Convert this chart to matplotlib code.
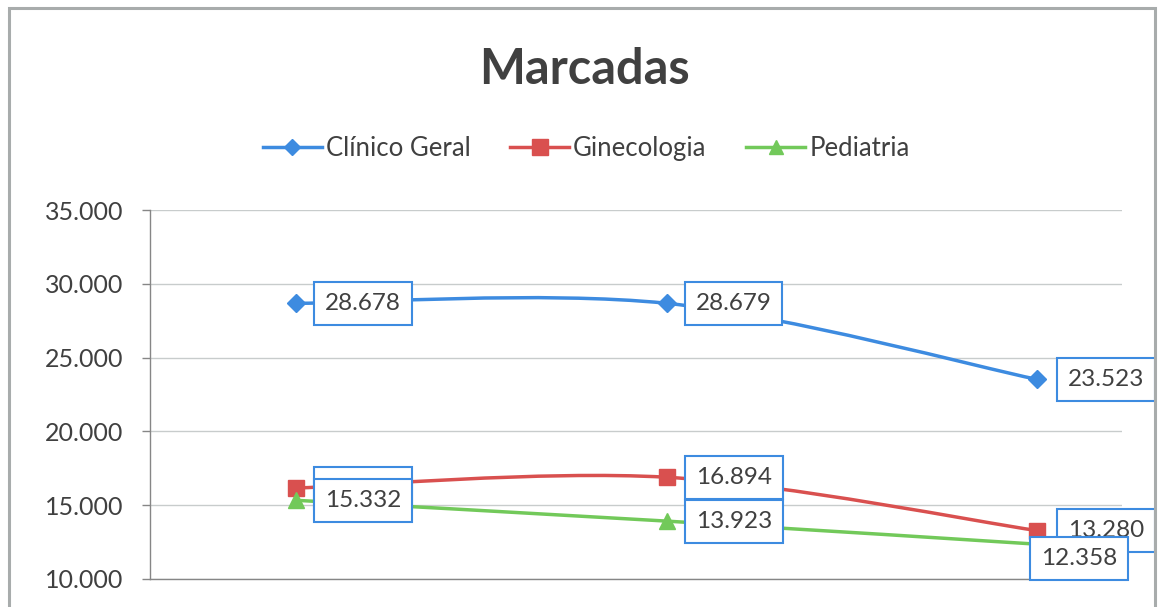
import matplotlib
matplotlib.use("Agg")
import matplotlib.pyplot as plt
from matplotlib.path import Path
from matplotlib.patches import PathPatch, Rectangle
from matplotlib.lines import Line2D
from matplotlib.ticker import FuncFormatter

plt.rcParams['font.family'] = ['Lato', 'DejaVu Sans']

# ---- data ----
title = "Marcadas"
series_names = ["Clínico Geral", "Ginecologia", "Pediatria"]
categories = [0, 1, 2]
clinico = [28678, 28679, 23523]
gineco = [16165, 16894, 13280]
pediatria = [15332, 13923, 12358]
yticks = [10000, 15000, 20000, 25000, 30000, 35000]

colors = ["#3d8be0", "#d9504f", "#72c95a"]
markers = ["D", "s", "^"]
msizes = [9, 12, 11]
txt_color = "#404040"

W, H = 1163, 607
fig = plt.figure(figsize=(W / 100, H / 100), dpi=100)
fig.patch.set_facecolor("white")
fig.patches.append(Rectangle((9 / W, -0.1), (1155 - 9) / W, 1 - 8 / H + 0.1,
                             transform=fig.transFigure, fill=False,
                             edgecolor="#a8acac", linewidth=2.2))

ax = fig.add_axes([150 / W, 1 - 579 / H, (1122 - 150) / W, (579 - 210) / H])
ax.set_xlim(-0.394, 2.229)
ax.set_ylim(10000, 35000)
ax.set_yticks(yticks)
ax.yaxis.set_major_formatter(FuncFormatter(lambda v, p: f"{int(v):,}".replace(",", ".")))
ax.set_xticks([])
ax.tick_params(axis="y", labelsize=18, colors="#868686", labelcolor=txt_color,
               length=6, width=1, pad=13)
for s in ["top", "right"]:
    ax.spines[s].set_visible(False)
for s in ["left", "bottom"]:
    ax.spines[s].set_color("#868686")
    ax.spines[s].set_linewidth(1)
ax.grid(axis="y", color="#c8cccc", linewidth=1)
ax.set_axisbelow(True)


def smooth_path(xs, ys):
    pts = list(zip(xs, ys))
    n = len(pts)
    verts = [pts[0]]
    codes = [Path.MOVETO]
    for i in range(n - 1):
        p0 = pts[i - 1] if i > 0 else pts[i]
        p1 = pts[i]
        p2 = pts[i + 1]
        p3 = pts[i + 2] if i + 2 < n else pts[i + 1]
        c1 = (p1[0] + (p2[0] - p0[0]) / 6, p1[1] + (p2[1] - p0[1]) / 6)
        c2 = (p2[0] - (p3[0] - p1[0]) / 6, p2[1] - (p3[1] - p1[1]) / 6)
        verts += [c1, c2, p2]
        codes += [Path.CURVE4] * 3
    return Path(verts, codes)


all_series = [clinico, gineco, pediatria]
for k, (vals, c, m, ms) in enumerate(zip(all_series, colors, markers, msizes)):
    ax.add_patch(PathPatch(smooth_path(categories, vals), fill=False,
                           edgecolor=c, linewidth=2.5, zorder=3))
    ax.plot(categories, vals, linestyle="none", marker=m, markersize=ms,
            color=c, zorder=4)

# data labels (offset in pixels from the point)
label_offsets = [
    [(29, 0), (29, 0), (31, 0)],
    [(29, 0), (29, 0), (31, 0)],
    [(29, 0), (29, 0), (4, -14)],
]
for k, vals in enumerate(all_series):
    for i, v in enumerate(vals):
        dx, dy = label_offsets[k][i]
        ax.annotate(f"{v:,}".replace(",", "."), (categories[i], v),
                    xytext=(dx, dy), textcoords="offset pixels",
                    ha="left", va="center", fontsize=17.5, color=txt_color,
                    bbox=dict(boxstyle="square,pad=0.45", facecolor="white",
                              edgecolor=colors[0], linewidth=1.5),
                    zorder=5 + k, annotation_clip=False)

fig.text(584 / W, 1 - 69 / H, title, ha="center", va="center",
         fontsize=35, fontweight="bold", color=txt_color)

handles = [Line2D([0], [0], color=c, marker=m, markersize=ms - 1, linewidth=2.5)
           for c, m, ms in zip(colors, markers, msizes)]
fig.legend(handles, series_names, loc="center", bbox_to_anchor=(586 / W, 1 - 148 / H),
           ncol=3, frameon=False, fontsize=18.5, handlelength=2.3,
           handletextpad=0.15, columnspacing=1.55, labelcolor=txt_color)

fig.savefig("out.png", dpi=100)
